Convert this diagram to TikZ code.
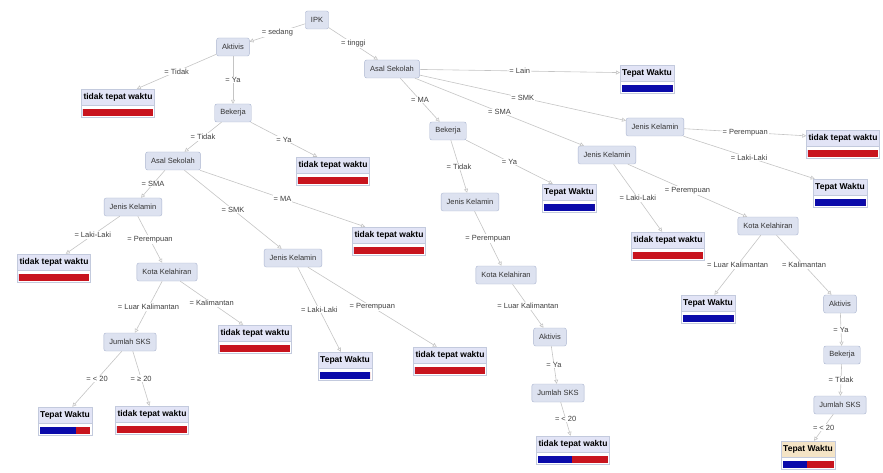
\documentclass[tikz,border=0pt]{standalone}
\usepackage{fontspec}
\setmainfont{Liberation Sans}
\usetikzlibrary{arrows.meta, calc}
\definecolor{nodeFill}{HTML}{DDE2F0}
\definecolor{nodeLine}{HTML}{A9B3CE}
\definecolor{leafFill}{HTML}{E2E4F6}
\definecolor{leafTan}{HTML}{F4E4C6}
\definecolor{barRed}{HTML}{C8141E}
\definecolor{barBlue}{HTML}{0A0AAA}
\definecolor{edgeGray}{HTML}{C4C4C4}

\tikzset{
  split/.style={rectangle, rounded corners=2pt, draw=nodeLine, fill=nodeFill,
    font=\fontsize{7.5}{8}\selectfont, text=black!80, inner xsep=5.5pt, minimum height=18pt},
  leaf/.style={rectangle, draw=nodeLine!70, fill=leafFill, font=\fontsize{8.5}{9}\selectfont\bfseries,
    inner xsep=2pt, text height=7pt, text depth=2pt, inner ysep=3.5pt},
  branch/.style={draw=edgeGray, line width=0.6pt, -{Triangle[open, length=4pt, width=4pt]}},
  cond/.style={fill=white, inner sep=0.8pt, font=\fontsize{7.5}{8}\selectfont, text=black!75},
}

% leaf: [fill]{name}{position}{text}{share of blue}
\newcommand{\leafnode}[5][leafFill]{%
  \node[leaf, fill=#1] (#2) at (#3) {#4};
  \draw[nodeLine!70, fill=white] (#2.south west) rectangle ([yshift=-12pt]#2.south east);
  \coordinate (#2-l) at ($(#2.south west)+(1.5pt,0)$);
  \coordinate (#2-r) at ($(#2.south east)+(-1.5pt,0)$);
  \fill[barBlue] ($(#2-l)+(0,-4pt)$) rectangle ($(#2-l)!#5!(#2-r)+(0,-11pt)$);
  \fill[barRed] ($(#2-l)!#5!(#2-r)+(0,-4pt)$) rectangle ($(#2-r)+(0,-11pt)$);
}

\begin{document}
\begin{tikzpicture}[x=1pt, y=-1pt]
  \useasboundingbox (0,0) rectangle (883,473);

  % split nodes
  \node[split] (ipk) at (317,20) {IPK};
  \node[split] (aktA) at (233,47) {Aktivis};
  \node[split] (asalA) at (392,69) {Asal Sekolah};
  \node[split] (bekA) at (233,113) {Bekerja};
  \node[split] (asalB) at (173,161) {Asal Sekolah};
  \node[split] (bekB) at (448,131) {Bekerja};
  \node[split] (jkA) at (655,127) {Jenis Kelamin};
  \node[split] (jkB) at (607,155) {Jenis Kelamin};
  \node[split] (jkC) at (133,207) {Jenis Kelamin};
  \node[split] (jkD) at (470,202) {Jenis Kelamin};
  \node[split] (kotaA) at (768,226) {Kota Kelahiran};
  \node[split] (kotaB) at (167,272) {Kota Kelahiran};
  \node[split] (jkE) at (293,258) {Jenis Kelamin};
  \node[split] (kotaC) at (506,275) {Kota Kelahiran};
  \node[split] (aktB) at (840,304) {Aktivis};
  \node[split] (sksA) at (130,342) {Jumlah SKS};
  \node[split] (aktC) at (550,337) {Aktivis};
  \node[split] (sksB) at (558,393) {Jumlah SKS};
  \node[split] (bekC) at (842,355) {Bekerja};
  \node[split] (sksC) at (840,405) {Jumlah SKS};

  % leaves
  \leafnode{lf1}{118,97}{tidak tepat waktu}{0}
  \leafnode{lf2}{647,73}{Tepat Waktu}{1}
  \leafnode{lf3}{333,165}{tidak tepat waktu}{0}
  \leafnode{lf4}{843,138}{tidak tepat waktu}{0}
  \leafnode{lf5}{840,187}{Tepat Waktu}{1}
  \leafnode{lf6}{569,192}{Tepat Waktu}{1}
  \leafnode{lf7}{389,235}{tidak tepat waktu}{0}
  \leafnode{lf8}{668,240}{tidak tepat waktu}{0}
  \leafnode{lf9}{54,262}{tidak tepat waktu}{0}
  \leafnode{lf10}{708,303}{Tepat Waktu}{1}
  \leafnode{lf11}{255,333}{tidak tepat waktu}{0}
  \leafnode{lf12}{345,360}{Tepat Waktu}{1}
  \leafnode{lf13}{450,355}{tidak tepat waktu}{0}
  \leafnode{lf14}{65,415}{Tepat Waktu}{0.72}
  \leafnode{lf15}{152,414}{tidak tepat waktu}{0}
  \leafnode{lf16}{573,444}{tidak tepat waktu}{0.49}
  \leafnode[leafTan]{lf17}{808,449}{Tepat Waktu}{0.48}

  % branches
  \draw[branch] (ipk) -- node[cond] {= sedang} (aktA);
  \draw[branch] (ipk) -- node[cond] {= tinggi} (asalA);
  \draw[branch] (aktA) -- node[cond] {= Tidak} (lf1);
  \draw[branch] (aktA) -- node[cond] {= Ya} (bekA);
  \draw[branch] (bekA) -- node[cond] {= Tidak} (asalB);
  \draw[branch] (bekA) -- node[cond] {= Ya} (lf3);
  \draw[branch] (asalA) -- node[cond] {= Lain} (lf2);
  \draw[branch] (asalA) -- node[cond] {= SMK} (jkA);
  \draw[branch] (asalA) -- node[cond] {= SMA} (jkB);
  \draw[branch] (asalA) -- node[cond] {= MA} (bekB);
  \draw[branch] (jkA) -- node[cond] {= Perempuan} (lf4);
  \draw[branch] (jkA) -- node[cond] {= Laki-Laki} (lf5);
  \draw[branch] (jkB) -- node[cond] {= Laki-Laki} (lf8);
  \draw[branch] (jkB) -- node[cond] {= Perempuan} (kotaA);
  \draw[branch] (bekB) -- node[cond] {= Tidak} (jkD);
  \draw[branch] (bekB) -- node[cond] {= Ya} (lf6);
  \draw[branch] (jkD) -- node[cond] {= Perempuan} (kotaC);
  \draw[branch] (kotaC) -- node[cond] {= Luar Kalimantan} (aktC);
  \draw[branch] (aktC) -- node[cond] {= Ya} (sksB);
  \draw[branch] (sksB) -- node[cond] {= < 20} (lf16);
  \draw[branch] (kotaA) -- node[cond] {= Luar Kalimantan} (lf10);
  \draw[branch] (kotaA) -- node[cond] {= Kalimantan} (aktB);
  \draw[branch] (aktB) -- node[cond] {= Ya} (bekC);
  \draw[branch] (bekC) -- node[cond] {= Tidak} (sksC);
  \draw[branch] (sksC) -- node[cond] {= < 20} (lf17);
  \draw[branch] (asalB) -- node[cond] {= SMA} (jkC);
  \draw[branch] (asalB) -- node[cond] {= SMK} (jkE);
  \draw[branch] (asalB) -- node[cond] {= MA} (lf7);
  \draw[branch] (jkC) -- node[cond] {= Laki-Laki} (lf9);
  \draw[branch] (jkC) -- node[cond] {= Perempuan} (kotaB);
  \draw[branch] (kotaB) -- node[cond] {= Luar Kalimantan} (sksA);
  \draw[branch] (kotaB) -- node[cond] {= Kalimantan} (lf11);
  \draw[branch] (sksA) -- node[cond] {= < 20} (lf14);
  \draw[branch] (sksA) -- node[cond] {= ≥ 20} (lf15);
  \draw[branch] (jkE) -- node[cond] {= Laki-Laki} (lf12);
  \draw[branch] (jkE) -- node[cond] {= Perempuan} (lf13);
\end{tikzpicture}
\end{document}
